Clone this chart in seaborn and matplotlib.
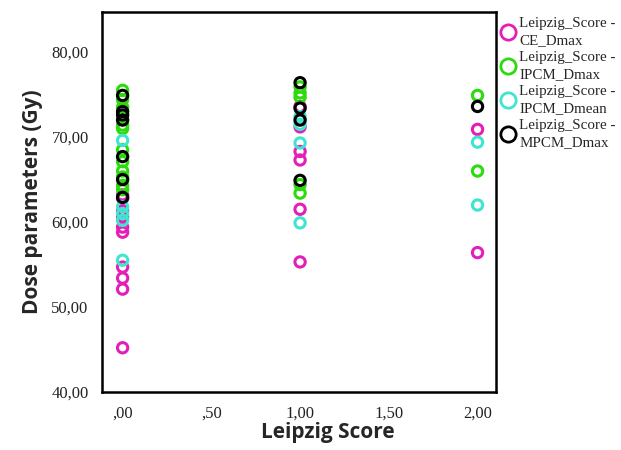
import matplotlib
matplotlib.use("Agg")
import matplotlib.pyplot as plt
from matplotlib.lines import Line2D
import seaborn as sns
import pandas as pd

# Dose values (Gy), per Leipzig score group
ce_dmax_0 = [63.2, 62.8, 60.6, 59.4, 58.8, 61.3, 54.7, 53.4, 52.1, 45.2]
ce_dmax_1 = [73.6, 68.3, 67.3, 61.5, 55.3, 71.2]
ce_dmax_2 = [70.9, 56.4]

ipcm_dmax_0 = [75.5, 74.4, 71.4, 71.0, 68.5, 67.1, 66.0, 65.3, 64.3, 63.8, 73.5]
ipcm_dmax_1 = [75.9, 75.2, 74.7, 64.4, 63.4]
ipcm_dmax_2 = [74.9, 66.0]

ipcm_dmean_0 = [69.6, 61.8, 61.0, 60.2, 55.5]
ipcm_dmean_1 = [72.4, 71.5, 69.3, 59.9]
ipcm_dmean_2 = [69.4, 62.0]

mpcm_dmax_0 = [74.9, 73.0, 72.6, 72.0, 67.7, 65.0, 62.9]
mpcm_dmax_1 = [76.4, 73.4, 72.0, 64.9]
mpcm_dmax_2 = [73.6]

series_names = ["Leipzig_Score -\nCE_Dmax", "Leipzig_Score -\nIPCM_Dmax",
                "Leipzig_Score -\nIPCM_Dmean", "Leipzig_Score -\nMPCM_Dmax"]
series_colors = ["#E31FB8", "#2BDB0C", "#3FE6CF", "#000000"]

x_ticks = [0, 0.5, 1.0, 1.5, 2.0]
x_tick_labels = [",00", ",50", "1,00", "1,50", "2,00"]
y_ticks = [40, 50, 60, 70, 80]
y_tick_labels = ["40,00", "50,00", "60,00", "70,00", "80,00"]

groups = [
    (ce_dmax_0, ce_dmax_1, ce_dmax_2),
    (ipcm_dmax_0, ipcm_dmax_1, ipcm_dmax_2),
    (ipcm_dmean_0, ipcm_dmean_1, ipcm_dmean_2),
    (mpcm_dmax_0, mpcm_dmax_1, mpcm_dmax_2),
]

rows = []
for name, per_score in zip(series_names, groups):
    for score, vals in zip([0, 1, 2], per_score):
        for v in vals:
            rows.append({"score": score, "dose": v, "series": name})
df = pd.DataFrame(rows)

sns.set_style("white")
fig = plt.figure(figsize=(6.21, 4.5), dpi=100)
ax = fig.add_axes([0.164, 0.129, 0.635, 0.844])

sns.scatterplot(data=df, x="score", y="dose", hue="series", hue_order=series_names,
                palette=series_colors, s=55, linewidth=2.2, legend=False, ax=ax)
# open circles like SPSS
coll = ax.collections[0]
fc = coll.get_facecolors()
coll.set_edgecolors(fc)
coll.set_facecolors("none")

ax.set_xlim(-0.117, 2.105)
ax.set_ylim(40, 84.7)
ax.set_xticks(x_ticks)
ax.set_xticklabels(x_tick_labels)
ax.set_yticks(y_ticks)
ax.set_yticklabels(y_tick_labels)

for sp in ax.spines.values():
    sp.set_linewidth(1.8)
    sp.set_color("black")
ax.tick_params(direction="out", length=6, width=1.8, color="black",
               labelsize=12, labelcolor="#222222")
for lbl in ax.get_xticklabels() + ax.get_yticklabels():
    lbl.set_family(["Liberation Serif"])

ax.set_xlabel("Leipzig Score", fontsize=15, fontweight="bold", family=["Open Sans"])
ax.xaxis.set_label_coords(0.572, -0.078)
ax.set_ylabel("Dose parameters (Gy)", fontsize=15, fontweight="bold", family=["Open Sans"], labelpad=6)

handles = [Line2D([], [], marker="o", linestyle="none", markerfacecolor="none",
                  markeredgecolor=c, markeredgewidth=2.0, markersize=11) for c in series_colors]
leg = fig.legend(handles, series_names, loc="upper left", bbox_to_anchor=(0.794, 0.975),
                 frameon=False, prop={"family": "Liberation Serif", "size": 10.8},
                 handletextpad=0.15, labelspacing=0.3, borderaxespad=0, handlelength=1.2)
for t in leg.get_texts():
    t.set_linespacing(1.35)

fig.savefig("out.png", dpi=100)
